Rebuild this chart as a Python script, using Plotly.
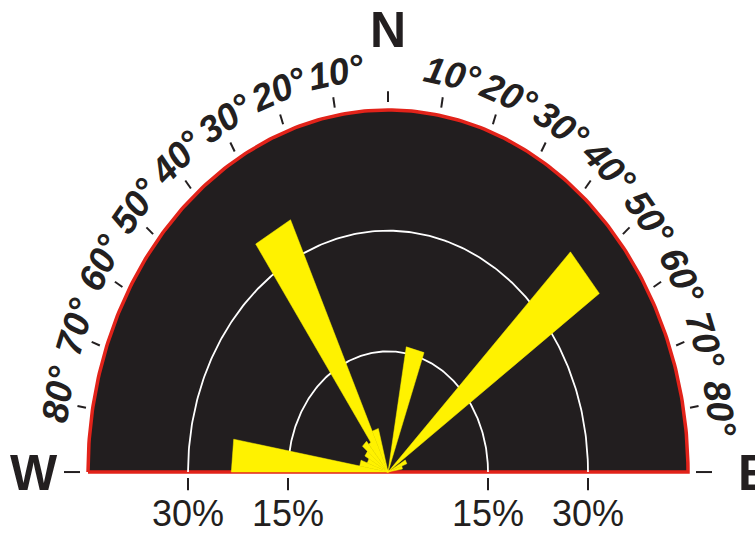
import numpy as np
import plotly.graph_objects as go

# ---- data -------------------------------------------------------------
# Petal bins: start / end direction (degrees clockwise from north,
# negative values lie west of north) and frequency in percent.
bin_start = [-90, -80, -70, -60, -50, -40, -35, -25, 10, 45, 60, 70]
bin_end = [-80, -70, -60, -50, -40, -30, -25, -15, 20, 55, 70, 80]
freq_pct = [23.5, 4.3, 3.3, 4.0, 5.0, 4.5, 34.6, 5.6, 15.8, 38.7, 3.0, 2.2]

ring_pct = [15, 30]                 # reference rings
ring_labels = ["15%", "30%"]
outer_pct = 45                      # dial edge
dir_ticks = list(range(-80, 90, 10))  # graduation every 10 degrees

# ---- geometry / style ---------------------------------------------------
W, H = 755, 536
X_RANGE = [-58.2, 55.05]
Y_RANGE = [-7.95, 58.67]
# vertical stretch of the dial (pixels per unit in y / pixels per unit in x)
K = (H / (Y_RANGE[1] - Y_RANGE[0])) / (W / (X_RANGE[1] - X_RANGE[0]))

INK = "#231f20"
DIAL = "#221e1f"
RED = "#e2231a"
YELLOW = "#fff200"


def arc(r, a0, a1, n=241):
    t = np.radians(np.linspace(a0, a1, n))
    return r * np.sin(t), r * np.cos(t)


fig = go.Figure()

# dial body (half disc) with red border
x, y = arc(outer_pct, -90, 90)
fig.add_trace(go.Scatter(
    x=np.r_[x, x[0]], y=np.r_[y, y[0]], mode="lines", fill="toself",
    fillcolor=DIAL, line=dict(color=RED, width=3.5), hoverinfo="skip"))

# percentage rings
for r in ring_pct:
    x, y = arc(r, -90, 90)
    fig.add_trace(go.Scatter(x=x, y=y, mode="lines",
                             line=dict(color="white", width=1.8),
                             hoverinfo="skip"))

# petals
for a0, a1, f in zip(bin_start, bin_end, freq_pct):
    t0, t1 = np.radians([a0, a1])
    fig.add_trace(go.Scatter(
        x=[0, f * np.sin(t0), f * np.sin(t1), 0],
        y=[0, f * np.cos(t0), f * np.cos(t1), 0],
        mode="lines", fill="toself", fillcolor=YELLOW,
        line=dict(color=YELLOW, width=0.5), hoverinfo="skip"))

# graduation marks around the dial, W/E marks and ring marks on the base
tx, ty = [], []
for a in [0] + dir_ticks:
    t = np.radians(a)
    tx += [46.0 * np.sin(t), 47.3 * np.sin(t), None]
    ty += [46.0 * np.cos(t), 47.3 * np.cos(t), None]
for s in (-1, 1):
    tx += [s * 46.2, s * 48.6, None]
    ty += [0, 0, None]
for r in ring_pct:
    for s in (-1, 1):
        tx += [s * r, s * r, None]
        ty += [-0.75, -2.25, None]
fig.add_trace(go.Scatter(x=tx, y=ty, mode="lines",
                         line=dict(color=INK, width=2), hoverinfo="skip"))

# ---- text -----------------------------------------------------------------
ann = []
for a in dir_ticks:
    if a == 0:
        continue
    t = np.radians(a + 1.0)
    rot = np.degrees(np.arctan(K * np.tan(np.radians(a))))
    ann.append(dict(
        x=50.3 * np.sin(t), y=50.3 * np.cos(t), text=f"{abs(a)}°",
        textangle=rot, showarrow=False, xanchor="center", yanchor="middle",
        font=dict(family="Liberation Sans, Arial", size=37, color=INK,
                  weight="bold", style="italic")))

cardinal = dict(family="Liberation Sans, Arial", size=50, color=INK,
                weight="bold")
ann.append(dict(x=0, y=55.0, text="N", showarrow=False, font=cardinal))
ann.append(dict(x=-53.1, y=-0.1, text="W", showarrow=False, font=cardinal))
# the east letter sits at the right edge of the page, partly cut off
ann.append(dict(x=736 / W, xref="paper", xanchor="left", y=-0.1,
                text="E", showarrow=False, font=cardinal))

for r, lab in zip(ring_pct, ring_labels):
    for s in (-1, 1):
        ann.append(dict(
            x=s * r, y=-5.2, text=lab, showarrow=False,
            font=dict(family="Liberation Sans, Arial", size=36, color=INK)))

fig.update_layout(
    width=W, height=H, margin=dict(l=0, r=0, t=0, b=0),
    paper_bgcolor="white", plot_bgcolor="white", showlegend=False,
    xaxis=dict(range=X_RANGE, visible=False, fixedrange=True),
    yaxis=dict(range=Y_RANGE, visible=False, fixedrange=True),
    annotations=ann)

fig.write_html("out.html")
